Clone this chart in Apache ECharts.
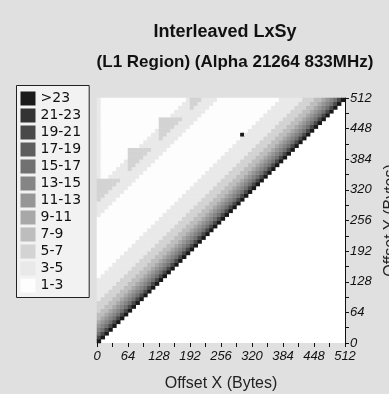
<!DOCTYPE html>
<html>
<head>
<meta charset="utf-8">
<script src="https://cdn.jsdelivr.net/npm/echarts@6/dist/echarts.min.js"></script>
<style>
html, body { margin: 0; padding: 0; background: #e0e0e0; }
#chart { width: 389px; height: 394px; }
</style>
</head>
<body>
<div id="chart"></div>
<script>
// legend classes, bottom (lightest) first
var levelLabels = ['1-3', '3-5', '5-7', '7-9', '9-11', '11-13', '13-15', '15-17', '17-19', '19-21', '21-23', '>23'];
var levelColors = ['#fdfdfd', '#e9e9e9', '#d3d3d3', '#bdbdbd', '#a8a8a8', '#969696', '#858585', '#717171', '#5e5e5e', '#494949', '#333333', '#1a1a1a'];
var levelKeys = '0123456789ab';

// 512 bytes split in 64 cells of 8 bytes
var axisMax = 512;
var axisStep = 64;
var cellCount = 64;

// one row per Y cell (bottom row first), cells from X=0 up to the diagonal.
// run-length: "cN" = level c repeated N times
var rows = [
  'b',
  '9 b',
  '7 9 b',
  '6 7 9 b',
  '5 6 7 9 b',
  '4 5 6 7 9 b',
  '3 4 5 6 7 9 b',
  '3x2 4 5 6 7 9 b',
  '2 3x2 4 5 6 7 9 b',
  '2x2 3x2 4 5 6 7 9 b',
  '2x3 3x2 4 5 6 7 9 b',
  '1 2x3 3x2 4 5 6 7 9 b',
  '1x2 2x3 3x2 4 5 6 7 9 b',
  '1x3 2x3 3x2 4 5 6 7 9 b',
  '1x4 2x3 3x2 4 5 6 7 9 b',
  '1x5 2x3 3x2 4 5 6 7 9 b',
  '1x6 2x3 3x2 4 5 6 7 9 b',
  '0 1x6 2x3 3x2 4 5 6 7 9 b',
  '0x2 1x6 2x3 3x2 4 5 6 7 9 b',
  '0x3 1x6 2x3 3x2 4 5 6 7 9 b',
  '0x4 1x6 2x3 3x2 4 5 6 7 9 b',
  '0x5 1x6 2x3 3x2 4 5 6 7 9 b',
  '0x6 1x6 2x3 3x2 4 5 6 7 9 b',
  '0x7 1x6 2x3 3x2 4 5 6 7 9 b',
  '0x8 1x6 2x3 3x2 4 5 6 7 9 b',
  '0x9 1x6 2x3 3x2 4 5 6 7 9 b',
  '0x10 1x6 2x3 3x2 4 5 6 7 9 b',
  '0x11 1x6 2x3 3x2 4 5 6 7 9 b',
  '0x12 1x6 2x3 3x2 4 5 6 7 9 b',
  '0x13 1x6 2x3 3x2 4 5 6 7 9 b',
  '0x14 1x6 2x3 3x2 4 5 6 7 9 b',
  '0x15 1x6 2x3 3x2 4 5 6 7 9 b',
  '0x16 1x6 2x3 3x2 4 5 6 7 9 b',
  '1 0x16 1x6 2x3 3x2 4 5 6 7 9 b',
  '1x2 0x16 1x6 2x3 3x2 4 5 6 7 9 b',
  '1x3 0x16 1x6 2x3 3x2 4 5 6 7 9 b',
  '1x4 0x16 1x6 2x3 3x2 4 5 6 7 9 b',
  '2 1x4 0x16 1x6 2x3 3x2 4 5 6 7 9 b',
  '2x2 1x4 0x16 1x6 2x3 3x2 4 5 6 7 9 b',
  '2x3 1x4 0x16 1x6 2x3 3x2 4 5 6 7 9 b',
  '2x4 1x4 0x16 1x6 2x3 3x2 4 5 6 7 9 b',
  '2x5 1x4 0x16 1x6 2x3 3x2 4 5 6 7 9 b',
  '2x6 1x4 0x16 1x6 2x3 3x2 4 5 6 7 9 b',
  '1 0x2 1x8 0x16 1x6 2x3 3x2 4 5 6 7 9 b',
  '1 0x3 1x8 0x16 1x6 2x3 3x2 4 5 6 7 9 b',
  '1 0x4 1x3 2 1x4 0x16 1x6 2x3 3x2 4 5 6 7 9 b',
  '1 0x5 1x2 2x2 1x4 0x16 1x6 2x3 3x2 4 5 6 7 9 b',
  '1 0x6 1 2x3 1x4 0x16 1x6 2x3 3x2 4 5 6 7 9 b',
  '1 0x7 2x4 1x4 0x16 1x6 2x3 3x2 4 5 6 7 9 b',
  '1 0x7 2x5 1x4 0x16 1x6 2x3 3x2 4 5 6 7 9 b',
  '1 0x7 2x6 1x4 0x16 1x6 2x3 3x2 4 5 6 7 9 b',
  '1 0x10 1x8 0x16 1x6 2x3 3x2 4 5 6 7 9 b',
  '1 0x11 1x8 0x16 1x6 2x3 3x2 4 5 6 7 9 b',
  '1 0x12 1x3 2 1x4 0x16 1x6 2x3 3x2 4 5 6 7 9 b',
  '1 0x13 1x2 2x2 1x4 0x15 b 1x6 2x3 3x2 4 5 6 7 9 b',
  '1 0x14 1 2x3 1x4 0x16 1x6 2x3 3x2 4 5 6 7 9 b',
  '1 0x15 2x4 1x4 0x16 1x6 2x3 3x2 4 5 6 7 9 b',
  '1 0x15 2x5 1x4 0x16 1x6 2x3 3x2 4 5 6 7 9 b',
  '1 0x15 2x6 1x4 0x16 1x6 2x3 3x2 4 5 6 7 9 b',
  '1 0x18 1x8 0x16 1x6 2x3 3x2 4 5 6 7 9 b',
  '1 0x19 1x8 0x16 1x6 2x3 3x2 4 5 6 7 9 b',
  '1 0x20 1x3 2 1x4 0x16 1x6 2x3 3x2 4 5 6 7 9 b',
  '1 0x21 1x2 2x2 1x4 0x16 1x6 2x3 3x2 4 5 6 7 9 b',
  '1 0x22 1 2x3 1x4 0x16 1x6 2x3 3x2 4 5 6 7 9 b'
];

var cells = [];
for (var k = 0; k < cellCount; k++) cells.push(k);

var data = [];
rows.forEach(function (row, y) {
    var x = 0;
    row.split(' ').forEach(function (tok) {
        var parts = tok.split('x');
        var n = parts[1] ? parseInt(parts[1], 10) : 1;
        var lv = levelKeys.indexOf(parts[0]);
        for (var r = 0; r < n; r++) {
            data.push([x, y, lv]);
            x++;
        }
    });
    if (x !== y + 1) console.warn('row ' + y + ' has ' + x + ' cells');
});

var pieces = levelLabels.map(function (lab, i) {
    return { value: i, label: lab, color: levelColors[i] };
});

var plot = { left: 97, top: 98, width: 248, height: 245 };
var tickColor = '#111';

var chart = echarts.init(document.getElementById('chart'));
chart.setOption({
    backgroundColor: '#e0e0e0',
    animation: false,
    title: [{
        text: 'Interleaved LxSy',
        left: 220, top: 18, textAlign: 'center',
        textStyle: { fontFamily: 'Liberation Sans', fontSize: 18, fontWeight: 'bold', color: '#111' }
    }, {
        text: '(L1 Region) (Alpha 21264 833MHz)',
        left: 230, top: 49, textAlign: 'center',
        textStyle: { fontFamily: 'Liberation Sans', fontSize: 17, fontWeight: 'bold', color: '#111' }
    }],
    grid: [
        { left: plot.left, top: plot.top, width: plot.width, height: plot.height, outerBoundsMode: 'none',
          show: true, backgroundColor: '#fff', borderWidth: 0 },
        { left: plot.left, top: plot.top, width: plot.width, height: plot.height, outerBoundsMode: 'none' }
    ],
    xAxis: [{
        type: 'category', gridIndex: 0, data: cells, show: false
    }, {
        type: 'value', gridIndex: 1, min: 0, max: axisMax, interval: axisStep, position: 'bottom',
        axisLine: { show: false },
        axisTick: { show: true, length: 4, lineStyle: { color: tickColor } },
        minorTick: { show: true, splitNumber: 2, length: 4, lineStyle: { color: tickColor } },
        splitLine: { show: false },
        axisLabel: { fontFamily: 'Liberation Sans', fontStyle: 'italic', fontSize: 13, color: '#111', margin: 7 },
        name: 'Offset X (Bytes)', nameLocation: 'middle', nameGap: 33,
        nameTextStyle: { fontFamily: 'Liberation Sans', fontSize: 16, color: '#222' }
    }],
    yAxis: [{
        type: 'category', gridIndex: 0, data: cells, show: false
    }, {
        type: 'value', gridIndex: 1, min: 0, max: axisMax, interval: axisStep, position: 'right',
        axisLine: { show: true, onZero: false, lineStyle: { color: tickColor, width: 1 } },
        axisTick: { show: true, length: 4, lineStyle: { color: tickColor } },
        minorTick: { show: true, splitNumber: 2, length: 4, lineStyle: { color: tickColor } },
        splitLine: { show: false },
        axisLabel: { fontFamily: 'Liberation Sans', fontStyle: 'italic', fontSize: 13, color: '#111', margin: 5 },
        name: 'Offset Y (Bytes)', nameLocation: 'middle', nameGap: 27, nameRotate: 90,
        nameTextStyle: { fontFamily: 'Liberation Sans', fontSize: 16, color: '#222' }
    }],
    visualMap: {
        type: 'piecewise', seriesIndex: 0, dimension: 2, pieces: pieces,
        orient: 'vertical', left: 16, top: 85,
        itemWidth: 15, itemHeight: 14, itemGap: 3, textGap: 5, itemSymbol: 'rect',
        padding: [6, 8, 5, 4],
        backgroundColor: '#f2f2f2', borderColor: '#222', borderWidth: 1,
        selectedMode: false, hoverLink: false,
        textStyle: { fontFamily: 'DejaVu Sans', fontSize: 14, color: '#111' }
    },
    series: [{
        type: 'heatmap', xAxisIndex: 0, yAxisIndex: 0, data: data,
        itemStyle: { borderWidth: 0 },
        emphasis: { disabled: true },
        progressive: 0
    }]
});
</script>
</body>
</html>
